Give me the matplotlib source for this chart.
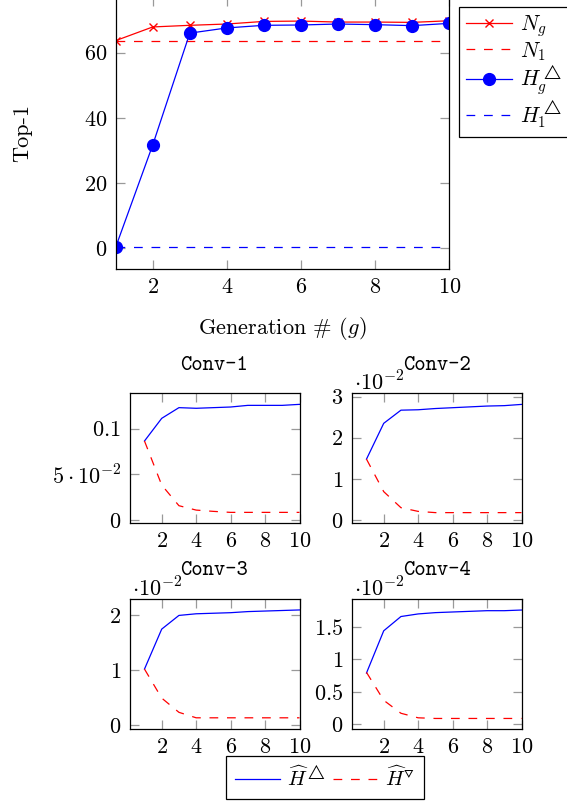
import numpy as np
import matplotlib
matplotlib.use("Agg")
import matplotlib.pyplot as plt

plt.rcParams['font.family'] = ['cmr10', 'DejaVu Serif']
plt.rcParams['mathtext.fontset'] = 'cm'
plt.rcParams['axes.unicode_minus'] = False
plt.rcParams['axes.formatter.use_mathtext'] = True

# ---- data ----
gens = [1, 2, 3, 4, 5, 6, 7, 8, 9, 10]
n_g = [63.7, 67.9, 68.4, 68.8, 69.6, 69.7, 69.4, 69.4, 69.3, 69.8]
n_1 = 63.6
h_g = [0.3, 31.7, 66.0, 67.6, 68.4, 68.5, 68.8, 68.6, 68.3, 69.0]
h_1 = 0.3

conv_names = ["Conv-1", "Conv-2", "Conv-3", "Conv-4"]
# Conv-1 in plain units, the others in units of 10^-2
conv_up = [
    [0.0865, 0.1113, 0.1230, 0.1223, 0.1230, 0.1237, 0.1255, 0.1255, 0.1255, 0.1266],
    [1.48, 2.35, 2.67, 2.68, 2.71, 2.73, 2.75, 2.77, 2.78, 2.81],
    [1.02, 1.75, 2.00, 2.03, 2.04, 2.05, 2.07, 2.08, 2.09, 2.10],
    [0.79, 1.44, 1.66, 1.70, 1.72, 1.73, 1.74, 1.75, 1.75, 1.76],
]
conv_down = [
    [0.0865, 0.0383, 0.0157, 0.0109, 0.0095, 0.0084, 0.0084, 0.0084, 0.0084, 0.0084],
    [1.48, 0.69, 0.30, 0.21, 0.18, 0.18, 0.18, 0.18, 0.18, 0.18],
    [1.02, 0.49, 0.23, 0.13, 0.13, 0.13, 0.13, 0.13, 0.13, 0.13],
    [0.80, 0.37, 0.17, 0.10, 0.09, 0.09, 0.09, 0.09, 0.09, 0.09],
]
conv_yticks = [[0, 0.05, 0.1], [0, 1, 2, 3], [0, 1, 2], [0, 0.5, 1, 1.5]]
conv_yticklabels = [[r'$0$', r'$5\cdot10^{-2}$', r'$0.1$'],
                    [r'$0$', r'$1$', r'$2$', r'$3$'],
                    [r'$0$', r'$1$', r'$2$'],
                    [r'$0$', r'$0.5$', r'$1$', r'$1.5$']]
conv_ylims = [(-0.0029, 0.1387), (-0.065, 3.08), (-0.08, 2.30), (-0.077, 1.93)]
conv_scaled = [False, True, True, True]

W, H = 567, 805
FS = 16
fig = plt.figure(figsize=(W / 100, H / 100), dpi=100)


def rect(l, t, r, b):
    return [l / W, 1 - b / H, (r - l) / W, (b - t) / H]


def style(ax):
    for s in ax.spines.values():
        s.set_linewidth(0.9)
    ax.tick_params(direction='in', top=True, right=True, length=6.5, width=0.9,
                   color='0.6', labelsize=FS, pad=6)


lw = 0.9
# ---- top chart ----
ax = fig.add_axes(rect(115.7, -2.7, 449.2, 269.3))
ax.plot(gens, n_g, color='red', lw=lw, marker='x', ms=6, mew=1, label=r'$N_g$')
ax.plot(gens, [n_1] * len(gens), color='red', lw=lw, dashes=(7, 7), label=r'$N_1$')
ax.plot(gens, h_g, color='blue', lw=lw, marker='o', ms=8.5, label=r'$H_g^{\triangle}$')
ax.plot(gens, [h_1] * len(gens), color='blue', lw=lw, dashes=(7, 7), label=r'$H_1^{\triangle}$')
ax.set_xlim(1, 10)
ax.set_ylim(-6.5, 77)
ax.set_xticks([2, 4, 6, 8, 10])
ax.set_xticklabels([r'$%d$' % v for v in [2, 4, 6, 8, 10]])
ax.set_yticks([0, 20, 40, 60])
ax.set_yticklabels([r'$%d$' % v for v in [0, 20, 40, 60]])
style(ax)
ax.set_xlabel(r'Generation $\#$ $(g)$', fontsize=FS, va='center')
ax.xaxis.set_label_coords(0.5, -59 / 272)
ax.set_ylabel('Top-1', fontsize=FS, va='center')
ax.yaxis.set_label_coords(-93 / 333.5, 0.5)
leg = ax.legend(loc='lower left', bbox_to_anchor=(459.3 / W, 1 - 136.7 / H),
                bbox_transform=fig.transFigure, fontsize=15.5, frameon=True,
                fancybox=False, edgecolor='black', framealpha=1,
                handlelength=2.15, handletextpad=0.35, labelspacing=0.05,
                borderpad=0.3, borderaxespad=0)
leg.get_frame().set_linewidth(0.9)

# ---- Conv subplots ----
boxes = [(129.5, 393.3, 299.5, 522.7), (351.5, 393.3, 521.5, 522.7),
         (129.5, 599.0, 299.5, 729.3), (351.5, 599.0, 521.5, 729.3)]
title_pos = [(214, 365), (437, 365), (214, 570), (437, 570)]
lines = []
for i in range(4):
    a = fig.add_axes(rect(*boxes[i]))
    l1, = a.plot(gens, conv_up[i], color='blue', lw=lw, label=r'$\widehat{H}^{\triangle}$')
    l2, = a.plot(gens, conv_down[i], color='red', lw=lw, dashes=(7, 7),
                 label=r'$\widehat{H}^{\triangledown}$')
    lines = [l1, l2]
    a.set_xlim(0.13, 10)
    a.set_ylim(*conv_ylims[i])
    a.set_xticks([2, 4, 6, 8, 10])
    a.set_xticklabels([r'$%d$' % v for v in [2, 4, 6, 8, 10]])
    a.set_yticks(conv_yticks[i])
    a.set_yticklabels(conv_yticklabels[i])
    style(a)
    if conv_scaled[i]:
        fig.text((boxes[i][0] + 28) / W, 1 - (boxes[i][1] - 11) / H, r'$\cdot10^{-2}$',
                 fontsize=FS, ha='center', va='center')
    fig.text(title_pos[i][0] / W, 1 - title_pos[i][1] / H, conv_names[i],
             family='cmtt10', fontsize=15.5, ha='center', va='center')

leg2 = fig.legend(lines, [l.get_label() for l in lines], loc='upper left',
                  bbox_to_anchor=(226 / W, 1 - 756 / H), ncol=2, fontsize=15,
                  frameon=True, fancybox=False, edgecolor='black', framealpha=1,
                  handlelength=2.15, handletextpad=0.35, columnspacing=0.3,
                  borderpad=0.45, borderaxespad=0)
leg2.get_frame().set_linewidth(0.9)

fig.savefig("out.png", dpi=100)
